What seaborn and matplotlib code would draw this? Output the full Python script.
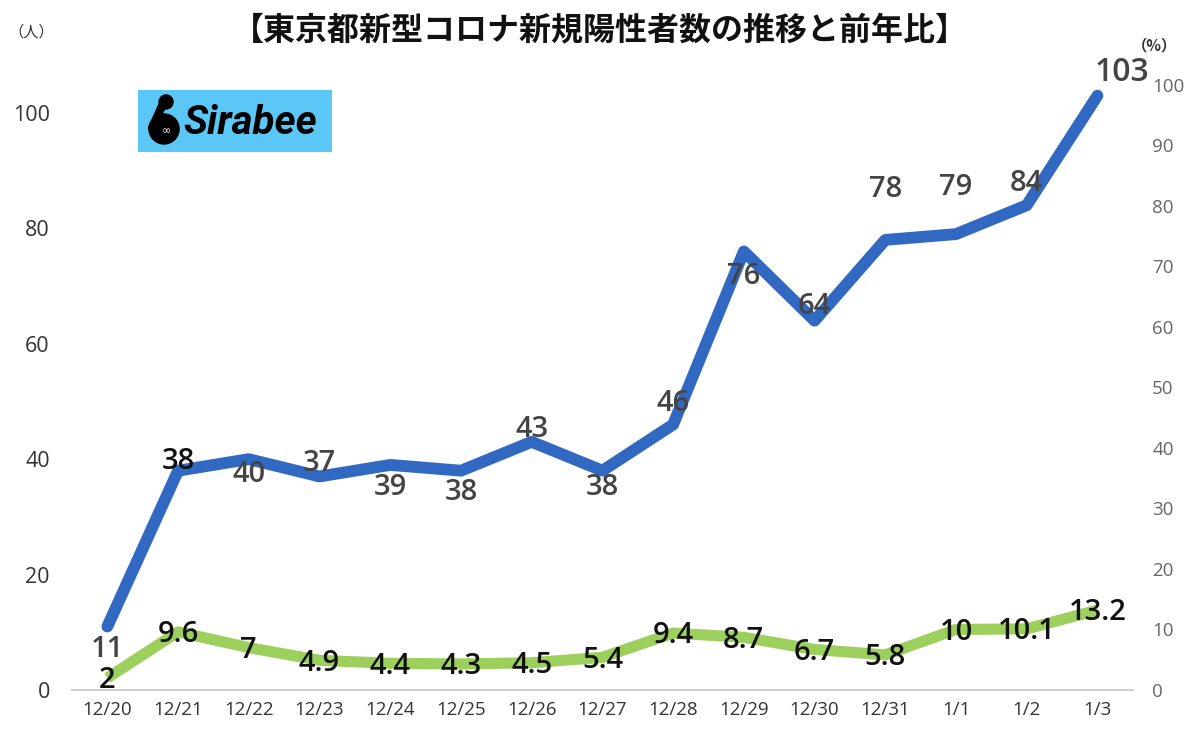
import numpy as np
import pandas as pd
import matplotlib.pyplot as plt
import seaborn as sns
from matplotlib.patches import Circle

# data
dates = ['12/20', '12/21', '12/22', '12/23', '12/24', '12/25', '12/26', '12/27',
         '12/28', '12/29', '12/30', '12/31', '1/1', '1/2', '1/3']
cases = [11, 38, 40, 37, 39, 38, 43, 38, 46, 76, 64, 78, 79, 84, 103]
ratio = [2, 9.6, 7, 4.9, 4.4, 4.3, 4.5, 5.4, 9.4, 8.7, 6.7, 5.8, 10, 10.1, 13.2]
left_ticks = [0, 20, 40, 60, 80, 100]
right_ticks = [0, 10, 20, 30, 40, 50, 60, 70, 80, 90, 100]

title = '【東京都新型コロナ新規陽性者数の推移と前年比】'

# label offsets for the blue series (pixels, dx, dy)
case_offsets = [(0, -23), (0, 9), (0, -15), (0, 13), (0, -23), (0, -22), (0, 12), (0, -17),
                (0, 21), (0, -25), (0, 14), (0, 50), (0, 47), (0, 22), (25, 23)]

BLUE = '#3169c2'
GREEN = '#9dcf5c'
NUM = ['Open Sans', 'Noto Sans CJK JP', 'DejaVu Sans']

sns.set_theme(style='white')
plt.rcParams['font.family'] = ['Noto Sans CJK JP', 'DejaVu Sans']

df = pd.DataFrame({'date': dates, 'cases': cases, 'ratio': ratio})
df['pos'] = np.arange(len(df))

fig = plt.figure(figsize=(12, 7.4), dpi=100)
ax = fig.add_axes([0.06, 0.0676, 0.884, 0.8176])
ax2 = ax.twinx()

sns.lineplot(data=df, x='pos', y='cases', ax=ax, color=BLUE, linewidth=8.5,
             solid_capstyle='round', solid_joinstyle='round')
sns.lineplot(data=df, x='pos', y='ratio', ax=ax2, color=GREEN, linewidth=8,
             solid_capstyle='butt', solid_joinstyle='round')

ax.set_xlim(-0.5, len(dates) - 0.5)
ax.set_ylim(0, 104.85)
ax2.set_ylim(0, 100)

ax.set_xticks(df['pos'])
ax.set_xticklabels(dates, family=NUM)
ax.set_xticks(np.arange(-0.5, len(dates), 1), minor=True)
ax.tick_params(axis='x', which='major', length=0, labelsize=13.5, colors='#333333', pad=8)
ax.tick_params(axis='x', which='minor', length=6, color='#d0d0d0', width=1.2)
ax.set_yticks(left_ticks)
ax.set_yticklabels([str(t) for t in left_ticks], family=NUM)
ax.tick_params(axis='y', length=0, labelsize=15.5, colors='#333333', pad=16)
ax2.set_yticks(right_ticks)
ax2.set_yticklabels([str(t) for t in right_ticks], family=NUM)
ax2.tick_params(axis='y', length=0, labelsize=13.5, colors='#666666', pad=14)

ax.set_xlabel('')
ax.set_ylabel('')
ax2.set_ylabel('')
for a in (ax, ax2):
    for s in a.spines.values():
        s.set_visible(False)
ax.spines['bottom'].set_visible(True)
ax.spines['bottom'].set_color('#d0d0d0')
ax.spines['bottom'].set_linewidth(1.5)
ax.grid(False)
ax2.grid(False)

# data labels
for i, v in enumerate(cases):
    dx, dy = case_offsets[i]
    col = '#111111' if i == 1 else '#444444'
    ax.annotate(str(v), (i, v), xytext=(dx * 0.72, dy * 0.72), textcoords='offset points',
                ha='center', va='center', fontsize=21 if i < 14 else 23, family=NUM,
                color=col, fontweight='semibold', zorder=5, annotation_clip=False)
for i, v in enumerate(ratio):
    ax2.annotate(f'{v:g}', (i, v), xytext=(0, -2), textcoords='offset points',
                 ha='center', va='center', fontsize=21, color='#111111', family=NUM,
                 fontweight='semibold', zorder=6)

fig.text(0.5, 0.958, title, ha='center', va='center', fontsize=23, fontweight='bold',
         color='#111111')
fig.text(0.026, 0.957, '（人）', ha='center', va='center', fontsize=11, color='#333333')
fig.text(0.962, 0.939, '（%）', ha='center', va='center', fontsize=11, color='#333333',
         fontweight='bold')

# logo box
lg = fig.add_axes([0.115, 0.7946, 0.162, 0.0838])
lg.set_facecolor('#5bc7f6')
lg.set_xlim(0, 194)
lg.set_ylim(0, 62)
lg.set_xticks([])
lg.set_yticks([])
for s in lg.spines.values():
    s.set_visible(False)
lg.add_patch(Circle((26, 23), 15, color='black'))
lg.add_patch(Circle((28, 50), 7, color='black'))
lg.plot([24, 14], [46, 24], color='black', linewidth=6, solid_capstyle='round')
lg.text(28, 21, '∞', ha='center', va='center', fontsize=8, color='white',
        family='DejaVu Sans')
lg.text(45, 29, 'Sirabee', ha='left', va='center', fontsize=29, fontweight='bold',
        fontstyle='italic', family='Roboto', color='black')

fig.savefig('out.png', dpi=100)
